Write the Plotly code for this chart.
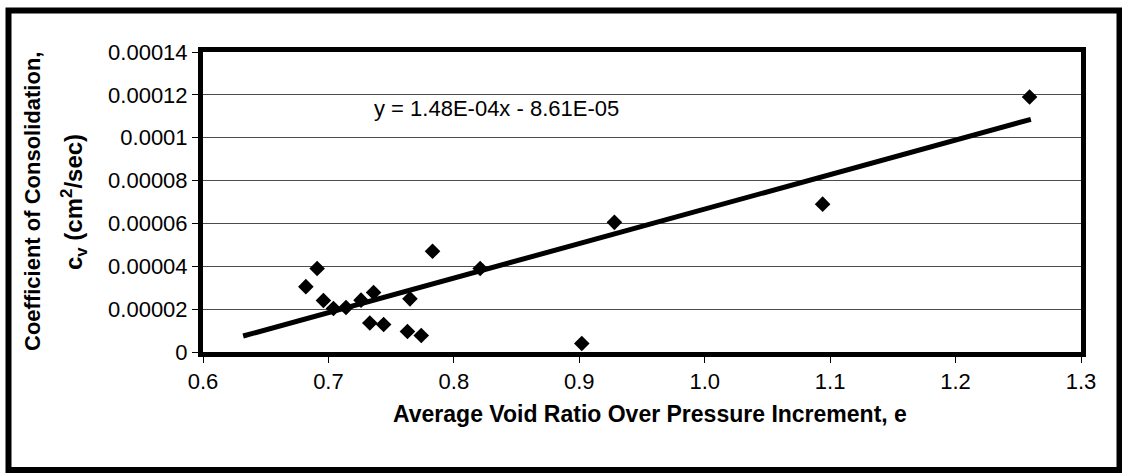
import plotly.graph_objects as go
import numpy as np

# ---------------- data ----------------
void_ratio = [0.682, 0.691, 0.696, 0.704, 0.714, 0.726, 0.733, 0.736, 0.744,
              0.763, 0.765, 0.774, 0.783, 0.821, 0.902, 0.928, 1.094, 1.259]
cv = [3.05e-5, 3.90e-5, 2.40e-5, 2.03e-5, 2.08e-5, 2.42e-5, 1.35e-5, 2.78e-5, 1.28e-5,
      0.96e-5, 2.48e-5, 0.77e-5, 4.70e-5, 3.90e-5, 0.40e-5, 6.05e-5, 6.90e-5, 1.19e-4]

trend_x = [0.632, 1.26]
trend_slope = 1.61e-4
trend_intercept = -9.43e-5
equation_text = "y = 1.48E-04x - 8.61E-05"

x_tick_vals = [0.6, 0.7, 0.8, 0.9, 1.0, 1.1, 1.2, 1.3]
x_tick_text = ["0.6", "0.7", "0.8", "0.9", "1.0", "1.1", "1.2", "1.3"]
y_tick_vals = [0, 0.00002, 0.00004, 0.00006, 0.00008, 0.0001, 0.00012, 0.00014]
y_tick_text = ["0", "0.00002", "0.00004", "0.00006", "0.00008", "0.0001", "0.00012", "0.00014"]

x_title = "Average Void Ratio Over Pressure Increment, e"
y_title_1 = "Coefficient of Consolidation,"
y_title_2 = "c<sub>v</sub> (cm<sup>2</sup>/sec)"

# ---------------- layout geometry (pixels) ----------------
W, H = 1122, 473
L, R, T, B = 203, 41, 52, 121
PW, PH = W - L - R, H - T - B


def px_x(px):
    return (px - L) / PW


def px_y(py):
    return (H - B - py) / PH


FONT = "Arial, Liberation Sans, sans-serif"

trend_y = [trend_slope * x + trend_intercept for x in trend_x]

fig = go.Figure()
fig.add_trace(go.Scatter(
    x=trend_x, y=trend_y, mode="lines",
    line=dict(color="black", width=5),
    hoverinfo="skip", showlegend=False,
))
fig.add_trace(go.Scatter(
    x=void_ratio, y=cv, mode="markers",
    marker=dict(symbol="diamond", size=12, color="black"),
    showlegend=False,
))

fig.update_layout(
    width=W, height=H, autosize=False,
    margin=dict(l=L, r=R, t=T, b=B, pad=0),
    paper_bgcolor="white", plot_bgcolor="white",
    font=dict(family=FONT, color="black", size=22),
    showlegend=False,
)

fig.update_xaxes(
    range=[0.6, 1.3], tickmode="array", tickvals=x_tick_vals, ticktext=x_tick_text,
    showgrid=False, zeroline=False,
    showline=True, mirror=True, linecolor="black", linewidth=5,
    ticks="outside", ticklen=6, tickwidth=1, tickcolor="black",
    tickfont=dict(size=22, family=FONT, color="black"),
)
fig.update_yaxes(
    range=[0, 0.00014], tickmode="array", tickvals=y_tick_vals, ticktext=y_tick_text,
    showgrid=True, gridcolor="#4d4d4d", gridwidth=1, zeroline=False,
    showline=True, mirror=True, linecolor="black", linewidth=5,
    ticks="outside", ticklen=6, tickwidth=1, tickcolor="black",
    tickfont=dict(size=22, family=FONT, color="black"),
)

annotations = [
    dict(text="<b>" + x_title + "</b>", xref="paper", yref="paper",
         x=px_x(650), y=px_y(414), xanchor="center", yanchor="middle",
         showarrow=False, font=dict(size=23, family=FONT, color="black")),
    dict(text="<b>" + y_title_1 + "</b>", xref="paper", yref="paper",
         x=px_x(32), y=0.5, xanchor="center", yanchor="middle", textangle=-90,
         showarrow=False, font=dict(size=22, family=FONT, color="black")),
    dict(text="<b>" + y_title_2 + "</b>", xref="paper", yref="paper",
         x=px_x(74), y=0.5, xanchor="center", yanchor="middle", textangle=-90,
         showarrow=False, font=dict(size=24, family=FONT, color="black")),
    dict(text=equation_text, xref="paper", yref="paper",
         x=px_x(372), y=px_y(109), xanchor="left", yanchor="middle",
         showarrow=False, font=dict(size=22, family=FONT, color="black")),
]
fig.update_layout(annotations=annotations)

# outer frame around the whole chart
fig.add_shape(type="rect", xref="paper", yref="paper",
              x0=px_x(8.5), x1=px_x(1119.5), y0=px_y(470), y1=px_y(10.5),
              line=dict(color="black", width=6), fillcolor="rgba(0,0,0,0)", layer="above")

fig.write_html("out.html")
